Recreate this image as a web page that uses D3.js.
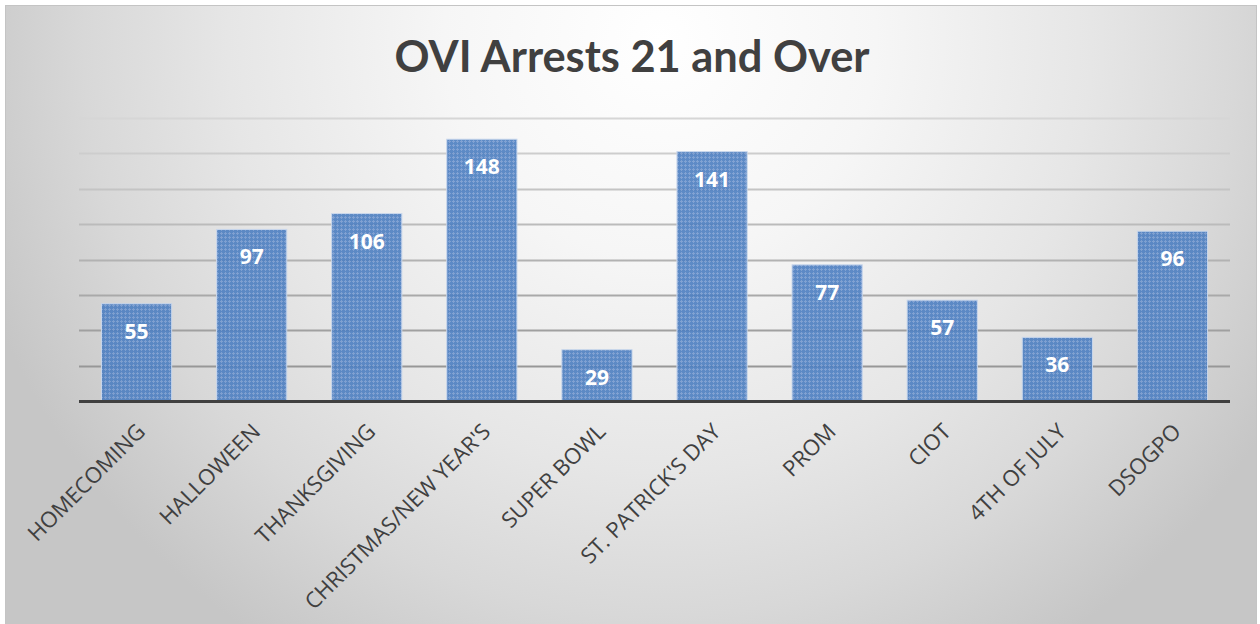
<!DOCTYPE html>
<html>
<head>
<meta charset="utf-8">
<script src="https://cdn.jsdelivr.net/npm/d3@7"></script>
<style>
  html, body { margin: 0; padding: 0; background: #ffffff; }
  svg { display: block; }
</style>
</head>
<body>
<svg id="chart" width="1260" height="624"></svg>
<script>
const titleText = "OVI Arrests 21 and Over";
const categories = ["HOMECOMING", "HALLOWEEN", "THANKSGIVING", "CHRISTMAS/NEW YEAR'S", "SUPER BOWL", "ST. PATRICK'S DAY", "PROM", "CIOT", "4TH OF JULY", "DSOGPO"];
const values = [55, 97, 106, 148, 29, 141, 77, 57, 36, 96];
const gridTicks = [20, 40, 60, 80, 100, 120, 140, 160];
const yMax = 160;

const svg = d3.select("#chart");
const plot = { left: 79, right: 1230, top: 118, bottom: 401 };

const defs = svg.append("defs");
const bg = defs.append("radialGradient")
  .attr("id", "bg").attr("gradientUnits", "userSpaceOnUse")
  .attr("cx", 660).attr("cy", 40).attr("r", 720);
[[0, "#ffffff"], [0.3, "#f6f6f6"], [0.6, "#e6e6e6"], [0.8, "#d8d8d8"], [1, "#c6c6c6"]]
  .forEach(([o, c]) => bg.append("stop").attr("offset", o).attr("stop-color", c));

const pat = defs.append("pattern").attr("id", "barpat")
  .attr("patternUnits", "userSpaceOnUse").attr("width", 4).attr("height", 4);
pat.append("rect").attr("width", 4).attr("height", 4).attr("fill", "#4d7fc1");
pat.append("rect").attr("x", 1).attr("y", 0).attr("width", 1).attr("height", 3).attr("fill", "#7499cf");
pat.append("rect").attr("x", 0).attr("y", 1).attr("width", 3).attr("height", 1).attr("fill", "#7499cf");

// background + frame
svg.append("rect").attr("x", 5.5).attr("y", 5.5).attr("width", 1251).attr("height", 630)
  .attr("fill", "url(#bg)").attr("stroke", "#c4c4c4").attr("stroke-width", 1);

// title
svg.append("text").attr("x", 632).attr("y", 72)
  .attr("text-anchor", "middle")
  .attr("font-family", "Lato, 'Open Sans', sans-serif")
  .attr("font-weight", "bold").attr("font-size", 44)
  .attr("fill", "#404040")
  .attr("textLength", 475).attr("lengthAdjust", "spacingAndGlyphs")
  .text(titleText);

const x = d3.scaleBand().domain(categories).range([plot.left, plot.right])
  .paddingInner(0.39).paddingOuter(0.195);
const y = d3.scaleLinear().domain([0, yMax]).range([plot.bottom, plot.top]);

const gridColor = d3.scaleLinear().domain([0, yMax]).range(["#8e8e8e", "#d6d6d6"]);

// gridlines
svg.append("g").selectAll("line").data(gridTicks).join("line")
  .attr("x1", plot.left).attr("x2", plot.right)
  .attr("y1", d => Math.round(y(d)) + 0.5).attr("y2", d => Math.round(y(d)) + 0.5)
  .attr("stroke", d => gridColor(d)).attr("stroke-width", 2);

// bars
svg.append("g").selectAll("rect").data(values).join("rect")
  .attr("x", (d, i) => x(categories[i]))
  .attr("y", d => y(d))
  .attr("width", x.bandwidth())
  .attr("height", d => y(0) - y(d))
  .attr("fill", "url(#barpat)").attr("fill-opacity", 0.9)
  .attr("stroke", "#c9d7ec").attr("stroke-width", 1);

// baseline
svg.append("line").attr("x1", plot.left).attr("x2", plot.right)
  .attr("y1", y(0) + 0.5).attr("y2", y(0) + 0.5)
  .attr("stroke", "#404040").attr("stroke-width", 3);

// data labels
svg.append("g").selectAll("text").data(values).join("text")
  .attr("x", (d, i) => x(categories[i]) + x.bandwidth() / 2)
  .attr("y", d => y(d) + 35)
  .attr("text-anchor", "middle")
  .attr("font-family", "'Open Sans', sans-serif")
  .attr("font-weight", "bold").attr("font-size", 21)
  .attr("fill", "#ffffff")
  .text(d => d);

// category labels
svg.append("g").selectAll("text").data(categories).join("text")
  .attr("transform", d => `translate(${x(d) + x.bandwidth() / 2 + 10},${plot.bottom + 32}) rotate(-45)`)
  .attr("text-anchor", "end")
  .attr("font-family", "'Open Sans', sans-serif")
  .attr("font-size", 22)
  .attr("fill", "#404040")
  .text(d => d);
</script>
</body>
</html>
